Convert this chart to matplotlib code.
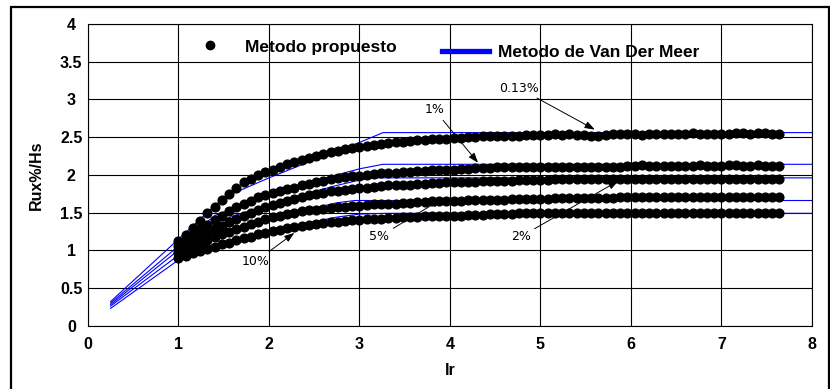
import matplotlib
matplotlib.use("Agg")
import matplotlib.pyplot as plt
from matplotlib.lines import Line2D
from matplotlib.patches import Rectangle

# Ir values of the "Metodo propuesto" points
ir = [1.00, 1.08, 1.16, 1.24, 1.32, 1.40, 1.48, 1.56, 1.64, 1.72,
      1.80, 1.88, 1.96, 2.04, 2.12, 2.20, 2.28, 2.36, 2.44, 2.52,
      2.60, 2.68, 2.76, 2.84, 2.92, 3.00, 3.08, 3.16, 3.24, 3.32,
      3.40, 3.48, 3.56, 3.64, 3.72, 3.80, 3.88, 3.96, 4.04, 4.12,
      4.20, 4.28, 4.36, 4.44, 4.52, 4.60, 4.68, 4.76, 4.84, 4.92,
      5.00, 5.08, 5.16, 5.24, 5.32, 5.40, 5.48, 5.56, 5.64, 5.72,
      5.80, 5.88, 5.96, 6.04, 6.12, 6.20, 6.28, 6.36, 6.44, 6.52,
      6.60, 6.68, 6.76, 6.84, 6.92, 7.00, 7.08, 7.16, 7.24, 7.32,
      7.40, 7.48, 7.56, 7.64]

ru_013 = [1.12, 1.20, 1.29, 1.39, 1.49, 1.58, 1.67, 1.75, 1.83, 1.90,
          1.95, 2.00, 2.04, 2.07, 2.11, 2.14, 2.17, 2.20, 2.22, 2.25,
          2.27, 2.30, 2.32, 2.34, 2.36, 2.37, 2.38, 2.40, 2.41, 2.42,
          2.43, 2.44, 2.45, 2.46, 2.46, 2.47, 2.48, 2.48, 2.49, 2.49,
          2.50, 2.50, 2.51, 2.51, 2.51, 2.52, 2.52, 2.52, 2.53, 2.53,
          2.53, 2.53, 2.54, 2.53, 2.54, 2.53, 2.53, 2.52, 2.52, 2.53,
          2.54, 2.54, 2.54, 2.54, 2.53, 2.54, 2.54, 2.54, 2.54, 2.54,
          2.54, 2.55, 2.54, 2.54, 2.54, 2.54, 2.54, 2.55, 2.55, 2.54,
          2.55, 2.55, 2.54, 2.54]
ru_1 = [1.06, 1.13, 1.20, 1.27, 1.34, 1.40, 1.46, 1.52, 1.57, 1.62,
        1.66, 1.70, 1.73, 1.76, 1.78, 1.81, 1.83, 1.86, 1.88, 1.90,
        1.92, 1.94, 1.96, 1.97, 1.98, 1.99, 2.00, 2.01, 2.02, 2.02,
        2.03, 2.04, 2.04, 2.05, 2.05, 2.06, 2.06, 2.07, 2.07, 2.08,
        2.08, 2.09, 2.09, 2.09, 2.10, 2.10, 2.10, 2.10, 2.10, 2.10,
        2.10, 2.11, 2.11, 2.11, 2.11, 2.11, 2.11, 2.11, 2.11, 2.11,
        2.11, 2.11, 2.12, 2.12, 2.13, 2.12, 2.12, 2.12, 2.12, 2.12,
        2.12, 2.12, 2.13, 2.12, 2.12, 2.12, 2.13, 2.13, 2.12, 2.12,
        2.13, 2.12, 2.12, 2.12]
ru_2 = [1.01, 1.06, 1.12, 1.18, 1.23, 1.28, 1.32, 1.37, 1.41, 1.45,
        1.49, 1.53, 1.57, 1.60, 1.63, 1.66, 1.68, 1.71, 1.73, 1.75,
        1.76, 1.78, 1.79, 1.80, 1.81, 1.82, 1.83, 1.84, 1.85, 1.86,
        1.86, 1.87, 1.87, 1.88, 1.88, 1.89, 1.89, 1.90, 1.90, 1.91,
        1.91, 1.91, 1.92, 1.92, 1.92, 1.92, 1.92, 1.93, 1.93, 1.93,
        1.93, 1.93, 1.94, 1.94, 1.94, 1.94, 1.94, 1.94, 1.94, 1.94,
        1.95, 1.95, 1.95, 1.95, 1.95, 1.95, 1.95, 1.95, 1.95, 1.95,
        1.95, 1.95, 1.95, 1.95, 1.95, 1.95, 1.95, 1.95, 1.95, 1.95,
        1.95, 1.95, 1.95, 1.95]
ru_5 = [0.96, 1.01, 1.05, 1.09, 1.13, 1.17, 1.21, 1.24, 1.28, 1.31,
        1.35, 1.38, 1.41, 1.44, 1.46, 1.48, 1.50, 1.52, 1.53, 1.54,
        1.55, 1.56, 1.57, 1.58, 1.59, 1.59, 1.60, 1.61, 1.61, 1.62,
        1.62, 1.63, 1.63, 1.64, 1.64, 1.65, 1.65, 1.66, 1.66, 1.66,
        1.67, 1.67, 1.67, 1.67, 1.67, 1.67, 1.68, 1.68, 1.68, 1.68,
        1.68, 1.68, 1.69, 1.69, 1.69, 1.69, 1.69, 1.69, 1.69, 1.69,
        1.69, 1.70, 1.70, 1.71, 1.71, 1.71, 1.71, 1.71, 1.71, 1.71,
        1.71, 1.71, 1.71, 1.71, 1.71, 1.71, 1.71, 1.71, 1.71, 1.71,
        1.71, 1.71, 1.71, 1.71]
ru_10 = [0.90, 0.93, 0.96, 0.99, 1.02, 1.05, 1.08, 1.10, 1.13, 1.16,
         1.18, 1.21, 1.23, 1.25, 1.27, 1.29, 1.31, 1.32, 1.34, 1.35,
         1.36, 1.37, 1.38, 1.39, 1.40, 1.40, 1.41, 1.42, 1.42, 1.43,
         1.43, 1.44, 1.44, 1.44, 1.45, 1.45, 1.45, 1.46, 1.46, 1.46,
         1.47, 1.47, 1.47, 1.48, 1.48, 1.48, 1.48, 1.49, 1.49, 1.49,
         1.49, 1.49, 1.50, 1.50, 1.50, 1.50, 1.49, 1.49, 1.49, 1.49,
         1.49, 1.49, 1.49, 1.49, 1.49, 1.49, 1.49, 1.49, 1.49, 1.49,
         1.49, 1.49, 1.49, 1.49, 1.49, 1.49, 1.49, 1.49, 1.49, 1.49,
         1.49, 1.49, 1.49, 1.49]

# Van der Meer curves, vertices
vdm_013_x = [0.25, 1.50, 1.75, 2.00, 2.25, 2.50, 2.75, 3.00, 3.26, 8.00]
vdm_013_y = [0.32, 1.70, 1.83, 1.96, 2.08, 2.20, 2.32, 2.43, 2.56, 2.56]
vdm_1_x = [0.25, 1.40, 1.60, 1.80, 2.00, 2.25, 2.50, 2.75, 3.00, 3.26, 8.00]
vdm_1_y = [0.30, 1.46, 1.55, 1.65, 1.73, 1.83, 1.92, 2.00, 2.08, 2.14, 2.14]
vdm_2_x = [0.25, 1.35, 1.60, 1.80, 2.00, 2.25, 2.50, 2.75, 3.00, 3.15, 8.00]
vdm_2_y = [0.28, 1.34, 1.45, 1.53, 1.61, 1.70, 1.78, 1.86, 1.93, 1.96, 1.96]
vdm_5_x = [0.25, 1.25, 1.50, 1.75, 2.00, 2.25, 2.50, 2.75, 2.95, 8.00]
vdm_5_y = [0.26, 1.16, 1.25, 1.34, 1.42, 1.50, 1.56, 1.63, 1.66, 1.66]
vdm_10_x = [0.25, 1.15, 1.40, 1.60, 1.80, 2.00, 2.25, 2.50, 2.75, 3.00, 3.30, 8.00]
vdm_10_y = [0.23, 1.00, 1.08, 1.14, 1.20, 1.25, 1.32, 1.38, 1.44, 1.48, 1.49, 1.49]

# labels: text, text position, arrow tip
labels = ["0.13%", "1%", "5%", "2%", "10%"]
label_xy = [(4.76, 3.15), (3.83, 2.86), (3.22, 1.18), (4.78, 1.18), (1.85, 0.85)]
tip_xy = [(5.60, 2.60), (4.31, 2.16), (3.91, 1.68), (5.86, 1.92), (2.28, 1.23)]

fig = plt.figure(figsize=(8.3, 3.89), dpi=100)
ax = fig.add_axes([0.106, 0.1627, 0.8723, 0.7756])

font = "Liberation Sans"

for vx, vy in [(vdm_013_x, vdm_013_y), (vdm_1_x, vdm_1_y), (vdm_2_x, vdm_2_y),
               (vdm_5_x, vdm_5_y), (vdm_10_x, vdm_10_y)]:
    ax.plot(vx, vy, color="#0000ff", lw=0.8, zorder=3)

for ru in [ru_013, ru_1, ru_2, ru_5, ru_10]:
    ax.plot(ir, ru, "o", color="black", markersize=6.3, zorder=4)

for txt, pos, tip in zip(labels, label_xy, tip_xy):
    ax.annotate(txt, xy=tip, xytext=pos, ha="center", va="center",
                fontsize=9, family="DejaVu Sans", zorder=5,
                arrowprops=dict(arrowstyle="-|>,head_length=0.5,head_width=0.18",
                                color="black", lw=0.7, mutation_scale=12,
                                shrinkA=1, shrinkB=0))

ax.set_xlim(0, 8)
ax.set_ylim(0, 4)
ax.set_xticks(range(0, 9))
ax.set_yticks([0, 0.5, 1, 1.5, 2, 2.5, 3, 3.5, 4])
ax.set_yticklabels(["0", "0.5", "1", "1.5", "2", "2.5", "3", "3.5", "4"])
ax.grid(True, color="black", lw=0.8)
ax.set_axisbelow(True)
ax.tick_params(length=0, labelsize=11.5, pad=8)
for lab in ax.get_xticklabels() + ax.get_yticklabels():
    lab.set_fontweight("bold")
    lab.set_family(font)
for lab in ax.get_yticklabels():
    lab.set_ha("center")
ax.tick_params(axis="y", pad=12)
for sp in ax.spines.values():
    sp.set_color("black")
    sp.set_linewidth(0.8)

ax.set_xlabel("Ir", fontsize=11.5, fontweight="bold", family=font, labelpad=8)
ax.set_ylabel("Rux%/Hs", fontsize=11.5, fontweight="bold", family=font, labelpad=12)

h1 = Line2D([], [], marker="o", color="black", ls="none", markersize=6)
leg1 = ax.legend([h1], ["Metodo propuesto"], loc="center left",
                 bbox_to_anchor=(0.145, 0.924), frameon=False, borderpad=0,
                 borderaxespad=0, handlelength=2.0, handletextpad=1.0,
                 prop={"family": font, "weight": "bold", "size": 12.5})
ax.add_artist(leg1)
h2 = Line2D([], [], color="#0000ff", lw=3.8)
ax.legend([h2], ["Metodo de Van Der Meer"], loc="center left",
          bbox_to_anchor=(0.489, 0.907), frameon=False, borderpad=0,
          borderaxespad=0, handlelength=2.7, handletextpad=0.5,
          prop={"family": font, "weight": "bold", "size": 12.5})

# outer frame around the whole figure
fig.patches.append(Rectangle((10.5 / 830, -0.02), 818 / 830, 1.02 - 6.5 / 389,
                             transform=fig.transFigure, fill=False,
                             edgecolor="black", lw=1.6))

fig.savefig("out.png", dpi=100)
